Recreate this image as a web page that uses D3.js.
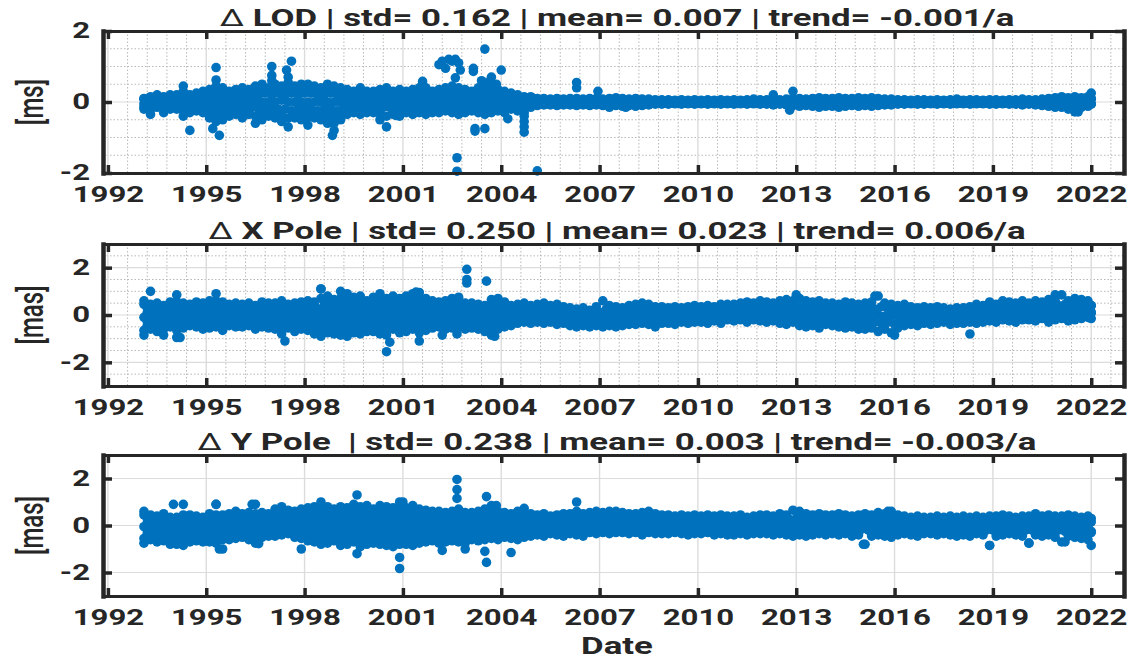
<!DOCTYPE html>
<html>
<head>
<meta charset="utf-8">
<script src="https://cdn.jsdelivr.net/npm/d3@7"></script>
<style>
  body { margin: 0; background: #fff; }
  text { font-family: Roboto, "Noto Sans", sans-serif; fill: #262626; }
</style>
</head>
<body>
<svg id="chart"></svg>
<script>
// Sample dates (decimal years), five per year, and a second set in between
const dates = [
  1993.1,1993.3,1993.5,1993.7,1993.9, 1994.1,1994.3,1994.5,1994.7,1994.9,
  1995.1,1995.3,1995.5,1995.7,1995.9, 1996.1,1996.3,1996.5,1996.7,1996.9,
  1997.1,1997.3,1997.5,1997.7,1997.9, 1998.1,1998.3,1998.5,1998.7,1998.9,
  1999.1,1999.3,1999.5,1999.7,1999.9, 2000.1,2000.3,2000.5,2000.7,2000.9,
  2001.1,2001.3,2001.5,2001.7,2001.9, 2002.1,2002.3,2002.5,2002.7,2002.9,
  2003.1,2003.3,2003.5,2003.7,2003.9, 2004.1,2004.3,2004.5,2004.7,2004.9,
  2005.1,2005.3,2005.5,2005.7,2005.9, 2006.1,2006.3,2006.5,2006.7,2006.9,
  2007.1,2007.3,2007.5,2007.7,2007.9, 2008.1,2008.3,2008.5,2008.7,2008.9,
  2009.1,2009.3,2009.5,2009.7,2009.9, 2010.1,2010.3,2010.5,2010.7,2010.9,
  2011.1,2011.3,2011.5,2011.7,2011.9, 2012.1,2012.3,2012.5,2012.7,2012.9,
  2013.1,2013.3,2013.5,2013.7,2013.9, 2014.1,2014.3,2014.5,2014.7,2014.9,
  2015.1,2015.3,2015.5,2015.7,2015.9, 2016.1,2016.3,2016.5,2016.7,2016.9,
  2017.1,2017.3,2017.5,2017.7,2017.9, 2018.1,2018.3,2018.5,2018.7,2018.9,
  2019.1,2019.3,2019.5,2019.7,2019.9, 2020.1,2020.3,2020.5,2020.7,2020.9,
  2021.1,2021.3,2021.5,2021.7,2021.9
];
const datesMid = [
  1993.2,1993.4,1993.6,1993.8,1994.0, 1994.2,1994.4,1994.6,1994.8,1995.0,
  1995.2,1995.4,1995.6,1995.8,1996.0, 1996.2,1996.4,1996.6,1996.8,1997.0,
  1997.2,1997.4,1997.6,1997.8,1998.0, 1998.2,1998.4,1998.6,1998.8,1999.0,
  1999.2,1999.4,1999.6,1999.8,2000.0, 2000.2,2000.4,2000.6,2000.8,2001.0,
  2001.2,2001.4,2001.6,2001.8,2002.0, 2002.2,2002.4,2002.6,2002.8,2003.0,
  2003.2,2003.4,2003.6,2003.8,2004.0, 2004.2,2004.4,2004.6,2004.8,2005.0,
  2005.2,2005.4,2005.6,2005.8,2006.0, 2006.2,2006.4,2006.6,2006.8,2007.0,
  2007.2,2007.4,2007.6,2007.8,2008.0, 2008.2,2008.4,2008.6,2008.8,2009.0,
  2009.2,2009.4,2009.6,2009.8,2010.0, 2010.2,2010.4,2010.6,2010.8,2011.0,
  2011.2,2011.4,2011.6,2011.8,2012.0, 2012.2,2012.4,2012.6,2012.8,2013.0,
  2013.2,2013.4,2013.6,2013.8,2014.0, 2014.2,2014.4,2014.6,2014.8,2015.0,
  2015.2,2015.4,2015.6,2015.8,2016.0, 2016.2,2016.4,2016.6,2016.8,2017.0,
  2017.2,2017.4,2017.6,2017.8,2018.0, 2018.2,2018.4,2018.6,2018.8,2019.0,
  2019.2,2019.4,2019.6,2019.8,2020.0, 2020.2,2020.4,2020.6,2020.8,2021.0,
  2021.2,2021.4,2021.6,2021.8,2022.0
];
// The noisy early years (1993-2004) get extra rows
const datesEarly = dates.slice(0, 60);
const datesEarlyMid = datesMid.slice(0, 60);

// ΔLOD [ms]: upper edge, inner rows, lower edge
const lodHi = [
  0.1,0.15,0.2,0.15,0.2, 0.2,0.45,0.2,0.25,0.3, 0.35,0.45,0.4,0.3,0.35, 0.4,0.35,0.45,0.5,0.4,
  0.5,0.45,0.55,0.45,0.5, 0.5,0.45,0.4,0.5,0.45, 0.4,0.35,0.3,0.4,0.3, 0.3,0.35,0.4,0.3,0.35,
  0.3,0.35,0.4,0.4,0.3, 0.35,0.4,0.45,0.4,0.35, 0.3,0.4,0.45,0.4,0.35, 0.3,0.25,0.2,0.15,0.15,
  0.1,0.1,0.08,0.1,0.08, 0.1,0.1,0.08,0.1,0.1, 0.08,0.1,0.12,0.1,0.08, 0.1,0.08,0.08,0.06,0.06,
  0.06,0.05,0.06,0.05,0.06, 0.05,0.06,0.05,0.06,0.05, 0.06,0.05,0.06,0.08,0.06, 0.06,0.08,0.06,0.08,0.1,
  0.1,0.08,0.1,0.12,0.1, 0.1,0.12,0.1,0.1,0.12, 0.1,0.12,0.1,0.08,0.08, 0.06,0.06,0.05,0.06,0.06,
  0.05,0.06,0.05,0.06,0.08, 0.05,0.06,0.06,0.05,0.06, 0.06,0.05,0.06,0.06,0.08, 0.06,0.06,0.08,0.1,0.12,
  0.15,0.12,0.15,0.12,0.15
];
const lodM1 = [
  0.05,0.08,0.1,0.08,0.1, 0.1,0.15,0.1,0.12,0.15, 0.15,0.2,0.2,0.15,0.15, 0.2,0.15,0.2,0.25,0.2,
  0.25,0.2,0.25,0.2,0.25, 0.25,0.2,0.2,0.25,0.2, 0.2,0.15,0.15,0.2,0.15, 0.15,0.15,0.2,0.15,0.15,
  0.15,0.15,0.2,0.2,0.15, 0.15,0.2,0.2,0.2,0.15, 0.15,0.2,0.2,0.2,0.15, 0.15,0.1,0.1,0.08,0.08,
  0.05,0.05,0.04,0.05,0.04, 0.05,0.05,0.04,0.05,0.05, 0.04,0.05,0.06,0.05,0.04, 0.05,0.04,0.04,0.03,0.03,
  0.03,0.03,0.03,0.03,0.03, 0.03,0.03,0.03,0.03,0.03, 0.03,0.03,0.03,0.04,0.03, 0.03,0.04,0.03,0.04,0.05,
  0.05,0.04,0.05,0.06,0.05, 0.05,0.06,0.05,0.05,0.06, 0.05,0.06,0.05,0.04,0.04, 0.03,0.03,0.03,0.03,0.03,
  0.03,0.03,0.03,0.03,0.04, 0.03,0.03,0.03,0.03,0.03, 0.03,0.03,0.03,0.03,0.04, 0.03,0.03,0.04,0.05,0.06,
  0.08,0.06,0.08,0.06,0.08
];
const lodM0 = [
  -0.05,0,0,0,0, 0,0,0,0,0, 0,0,0,0,0, 0,0,0,0,0,
  0,0.05,0,0,0, 0,0,0,0,0, 0,0,0,0,0, 0,0,0,0,0,
  0,0,0,0,0, 0,0,0,0,0, 0,0,0,0,0, 0,0,0,0,0,
  0,0,0,0,0, 0,0,0,0,0, 0,0,0,0,0, 0,0,0,0,0,
  0,0,0,0,0, 0,0,0,0,0, 0,0,0,0,0, 0,0,0,0,0,
  0,0,0,0,0, 0,0,0,0,0, 0,0,0,0,0, 0,0,0,0,0,
  0,0,0,0,0, 0,0,0,0,0, 0,0,0,0,0, 0,0,0,0,0,
  0,0,0,0,0
];
const lodM2 = [
  -0.08,-0.1,-0.1,-0.05,-0.1, -0.1,-0.1,-0.15,-0.1,-0.15, -0.15,-0.2,-0.2,-0.15,-0.15, -0.2,-0.15,-0.2,-0.2,-0.2,
  -0.2,-0.2,-0.25,-0.2,-0.2, -0.2,-0.25,-0.2,-0.2,-0.25, -0.15,-0.15,-0.15,-0.15,-0.15, -0.15,-0.15,-0.15,-0.15,-0.15,
  -0.15,-0.15,-0.15,-0.15,-0.15, -0.15,-0.15,-0.1,-0.15,-0.15, -0.1,-0.15,-0.15,-0.15,-0.1, -0.15,-0.1,-0.1,-0.05,-0.05,
  -0.04,-0.05,-0.04,-0.04,-0.04, -0.04,-0.05,-0.04,-0.05,-0.04, -0.05,-0.05,-0.05,-0.05,-0.04, -0.04,-0.04,-0.04,-0.03,-0.03,
  -0.03,-0.03,-0.03,-0.03,-0.03, -0.03,-0.03,-0.03,-0.03,-0.03, -0.03,-0.03,-0.03,-0.03,-0.03, -0.03,-0.04,-0.03,-0.04,-0.05,
  -0.06,-0.05,-0.06,-0.08,-0.06, -0.06,-0.08,-0.06,-0.05,-0.06, -0.05,-0.06,-0.05,-0.04,-0.04, -0.03,-0.03,-0.03,-0.03,-0.03,
  -0.03,-0.03,-0.03,-0.03,-0.03, -0.03,-0.03,-0.03,-0.03,-0.03, -0.03,-0.03,-0.03,-0.03,-0.04, -0.03,-0.04,-0.05,-0.06,-0.08,
  -0.08,-0.1,-0.14,-0.08,-0.06
];
const lodLo = [
  -0.2,-0.35,-0.15,-0.3,-0.2, -0.2,-0.4,-0.8,-0.25,-0.3, -0.45,-0.55,-0.5,-0.4,-0.35, -0.45,-0.35,-0.6,-0.5,-0.4,
  -0.45,-0.55,-0.7,-0.45,-0.5, -0.65,-0.45,-0.5,-0.6,-0.6, -0.5,-0.35,-0.3,-0.35,-0.3, -0.3,-0.5,-0.7,-0.35,-0.4,
  -0.3,-0.35,-0.3,-0.35,-0.3, -0.3,-0.25,-0.3,-0.35,-0.3, -0.25,-0.3,-0.35,-0.3,-0.25, -0.3,-0.2,-0.25,-0.3,-0.15,
  -0.1,-0.08,-0.08,-0.1,-0.08, -0.08,-0.1,-0.08,-0.1,-0.08, -0.1,-0.15,-0.1,-0.12,-0.1, -0.12,-0.1,-0.08,-0.06,-0.06,
  -0.06,-0.05,-0.06,-0.05,-0.06, -0.05,-0.06,-0.05,-0.06,-0.05, -0.06,-0.05,-0.06,-0.05,-0.06, -0.06,-0.08,-0.06,-0.08,-0.1,
  -0.12,-0.1,-0.12,-0.15,-0.12, -0.12,-0.15,-0.12,-0.1,-0.12, -0.1,-0.12,-0.1,-0.08,-0.08, -0.06,-0.06,-0.05,-0.06,-0.06,
  -0.05,-0.06,-0.05,-0.06,-0.05, -0.05,-0.06,-0.05,-0.05,-0.06, -0.06,-0.05,-0.06,-0.06,-0.08, -0.06,-0.08,-0.1,-0.12,-0.15,
  -0.15,-0.2,-0.28,-0.15,-0.12
];
// extra rows 1993-2004
const lodU = [
  0.08,0.12,0.15,0.12,0.15, 0.15,0.3,0.15,0.18,0.22, 0.25,0.32,0.3,0.22,0.25, 0.3,0.25,0.32,0.38,0.3,
  0.38,0.32,0.4,0.32,0.38, 0.38,0.32,0.3,0.38,0.32, 0.3,0.25,0.22,0.3,0.22, 0.22,0.25,0.3,0.22,0.25,
  0.22,0.25,0.3,0.3,0.22, 0.25,0.3,0.32,0.3,0.25, 0.22,0.3,0.32,0.3,0.25, 0.22,0.18,0.15,0.12,0.12
];
const lodD = [
  -0.14,-0.22,-0.12,-0.18,-0.15, -0.15,-0.25,-0.3,-0.18,-0.22, -0.3,-0.38,-0.35,-0.28,-0.25, -0.32,-0.25,-0.4,-0.35,-0.3,
  -0.32,-0.38,-0.45,-0.32,-0.35, -0.42,-0.35,-0.35,-0.4,-0.42, -0.32,-0.25,-0.22,-0.25,-0.22, -0.22,-0.32,-0.4,-0.25,-0.28,
  -0.22,-0.25,-0.22,-0.25,-0.22, -0.22,-0.2,-0.2,-0.25,-0.22, -0.18,-0.22,-0.25,-0.22,-0.18, -0.22,-0.15,-0.18,-0.18,-0.1
];
const lodOutDates = [
  1995.3,1995.3,1995.4,1995.2,1997.0,1997.0,1997.0,1997.45,1997.5,1997.6,1998.85,1998.9,
  2001.6,2000.8,2002.1,2002.2,2002.3,2002.4,2002.5,2002.6,2002.7,2002.75,2002.6,2002.65,2002.65,
  2003.15,2003.15,2003.5,2003.4,2003.6,2003.7,2003.85,2004.0,2003.2,2003.2,2003.5,2004.2,
  2004.7,2004.7,2004.7,2004.7,2005.1,2006.3,2006.3,2006.95,2007.8,2012.3,2012.9,2012.8,
  2021.6,2022.0,2022.0,2022.0
];
const lodOutValues = [
  0.97,0.62,-0.94,-0.75,1.0,0.75,0.6,0.9,0.7,1.15,-0.94,-0.8,
  0.58,-0.38,1.05,1.15,0.95,1.2,1.15,1.2,1.1,0.9,0.68,-1.57,-1.95,
  0.86,0.95,1.49,0.6,0.55,0.7,0.5,0.9,-0.75,-0.82,-0.75,-0.47,
  -0.4,-0.55,-0.7,-0.85,-1.94,0.55,0.4,0.3,-0.15,0.2,0.3,-0.23,
  -0.28,0.25,0.1,-0.05
];

// ΔX Pole [mas]
const xpHi = [
  0.6,0.45,0.5,0.4,0.55, 0.85,0.5,0.45,0.55,0.5, 0.6,0.9,0.55,0.45,0.5, 0.45,0.5,0.4,0.55,0.5,
  0.5,0.6,0.45,0.5,0.55, 0.6,0.55,1.1,0.8,0.65, 0.7,0.9,0.75,0.8,0.6, 0.75,0.9,0.7,0.8,0.7,
  0.8,0.9,0.95,0.7,0.6, 0.55,0.6,0.7,0.75,0.5, 0.5,0.45,0.4,0.65,0.7, 0.55,0.4,0.45,0.5,0.4,
  0.45,0.5,0.4,0.45,0.35, 0.3,0.25,0.3,0.2,0.35, 0.6,0.4,0.35,0.3,0.4, 0.45,0.5,0.45,0.35,0.35,
  0.3,0.35,0.3,0.35,0.4, 0.35,0.4,0.35,0.45,0.45, 0.45,0.5,0.55,0.5,0.6, 0.55,0.5,0.6,0.65,0.6,
  0.7,0.6,0.55,0.6,0.5, 0.5,0.45,0.55,0.5,0.45, 0.5,0.55,0.8,0.5,0.45, 0.4,0.45,0.35,0.3,0.35,
  0.3,0.35,0.3,0.25,0.3, 0.3,0.35,0.45,0.4,0.55, 0.45,0.6,0.55,0.5,0.6, 0.5,0.6,0.55,0.65,0.6,
  0.85,0.6,0.7,0.65,0.6
];
const xpM1 = [
  0.3,0.2,0.25,0.2,0.25, 0.3,0.25,0.2,0.25,0.2, 0.3,0.35,0.25,0.2,0.25, 0.2,0.25,0.2,0.25,0.25,
  0.2,0.25,0.2,0.2,0.25, 0.3,0.25,0.45,0.4,0.3, 0.35,0.45,0.4,0.4,0.3, 0.4,0.45,0.35,0.4,0.35,
  0.45,0.5,0.5,0.4,0.35, 0.3,0.3,0.35,0.35,0.25, 0.25,0.2,0.2,0.3,0.35, 0.3,0.25,0.25,0.25,0.2,
  0.25,0.3,0.25,0.25,0.2, 0.1,0.05,0.1,0.0,0.1, 0.25,0.2,0.15,0.1,0.2, 0.25,0.25,0.2,0.15,0.15,
  0.15,0.15,0.15,0.15,0.2, 0.2,0.2,0.2,0.25,0.25, 0.3,0.3,0.35,0.3,0.35, 0.35,0.3,0.35,0.4,0.35,
  0.35,0.3,0.3,0.3,0.25, 0.25,0.2,0.3,0.25,0.2, 0.25,0.25,0.35,0.25,0.2, 0.2,0.2,0.15,0.15,0.15,
  0.15,0.15,0.15,0.1,0.15, 0.15,0.2,0.25,0.2,0.3, 0.3,0.35,0.35,0.3,0.35, 0.35,0.4,0.35,0.4,0.4,
  0.45,0.4,0.45,0.4,0.4
];
const xpM0 = [
  -0.1,-0.05,-0.1,-0.05,-0.1, -0.05,0,-0.05,0,-0.05, 0,0.05,0,-0.05,0, -0.05,0,-0.05,0,-0.05,
  -0.1,-0.05,-0.1,-0.1,-0.05, -0.05,-0.05,0,0,0, 0,0.05,0,0,0, 0.05,0.05,0,0.05,0,
  0.1,0.1,0.1,0.05,0.05, 0.05,0,0.05,0.05,0, -0.05,-0.05,-0.1,-0.05,0, 0.05,0.05,0.05,0.1,0.05,
  0.05,0.1,0.05,0.05,0, -0.1,-0.1,-0.1,-0.15,-0.1, -0.05,-0.05,-0.1,-0.1,0, 0,0.05,0,-0.05,0,
  0,0,-0.05,0,0.05, 0.05,0.05,0.05,0.05,0.1, 0.1,0.15,0.15,0.15,0.15, 0.15,0.1,0.15,0.15,0.15,
  0.1,0.05,0.05,0.05,0.05, 0,0,0.05,0,-0.05, -0.05,-0.05,0,-0.05,-0.05, -0.05,-0.05,-0.05,-0.05,-0.05,
  -0.05,0,-0.05,-0.05,0, 0,0.05,0.05,0.05,0.1, 0.1,0.15,0.15,0.1,0.15, 0.15,0.2,0.2,0.15,0.2,
  0.25,0.2,0.25,0.2,0.25
];
const xpM2 = [
  -0.45,-0.3,-0.35,-0.4,-0.3, -0.35,-0.3,-0.25,-0.3,-0.3, -0.3,-0.25,-0.35,-0.25,-0.25, -0.3,-0.25,-0.3,-0.25,-0.3,
  -0.35,-0.4,-0.35,-0.4,-0.35, -0.35,-0.4,-0.45,-0.4,-0.4, -0.4,-0.45,-0.35,-0.4,-0.35, -0.35,-0.4,-0.4,-0.3,-0.35,
  -0.3,-0.25,-0.3,-0.3,-0.25, -0.25,-0.3,-0.25,-0.25,-0.3, -0.3,-0.35,-0.4,-0.45,-0.3, -0.25,-0.2,-0.15,-0.1,-0.15,
  -0.15,-0.15,-0.15,-0.2,-0.2, -0.3,-0.3,-0.3,-0.35,-0.3, -0.3,-0.25,-0.3,-0.3,-0.2, -0.2,-0.15,-0.2,-0.25,-0.2,
  -0.2,-0.2,-0.15,-0.2,-0.15, -0.15,-0.15,-0.1,-0.15,-0.05, -0.05,-0.05,-0.1,-0.05,-0.05, -0.1,-0.1,-0.1,-0.15,-0.1,
  -0.2,-0.25,-0.2,-0.25,-0.2, -0.25,-0.25,-0.25,-0.25,-0.3, -0.3,-0.3,-0.35,-0.3,-0.4, -0.3,-0.25,-0.25,-0.25,-0.2,
  -0.2,-0.2,-0.15,-0.2,-0.2, -0.15,-0.15,-0.15,-0.1,-0.1, -0.1,-0.05,-0.05,-0.1,0, 0,0,0.05,-0.05,0,
  0.05,0,0.05,0.05,0.1
];
const xpLo = [
  -0.85,-0.6,-0.7,-0.85,-0.5, -0.95,-0.55,-0.45,-0.5,-0.6, -0.55,-0.5,-0.65,-0.45,-0.5, -0.5,-0.45,-0.6,-0.5,-0.55,
  -0.6,-0.8,-0.55,-0.7,-0.6, -0.65,-0.8,-0.9,-0.75,-0.8, -0.85,-0.9,-0.75,-0.8,-0.7, -0.7,-0.8,-0.85,-0.6,-0.75,
  -0.7,-0.6,-0.75,-0.65,-0.55, -0.5,-0.6,-0.55,-0.5,-0.6, -0.55,-0.6,-0.7,-0.85,-0.6, -0.5,-0.45,-0.35,-0.3,-0.35,
  -0.3,-0.35,-0.3,-0.4,-0.35, -0.45,-0.5,-0.45,-0.5,-0.45, -0.5,-0.45,-0.5,-0.45,-0.4, -0.4,-0.35,-0.4,-0.5,-0.35,
  -0.35,-0.4,-0.3,-0.35,-0.3, -0.3,-0.35,-0.25,-0.35,-0.2, -0.25,-0.2,-0.3,-0.2,-0.25, -0.3,-0.25,-0.35,-0.4,-0.3,
  -0.45,-0.5,-0.45,-0.55,-0.4, -0.45,-0.5,-0.55,-0.5,-0.6, -0.6,-0.55,-0.7,-0.6,-0.75, -0.55,-0.45,-0.4,-0.45,-0.35,
  -0.4,-0.35,-0.3,-0.4,-0.35, -0.35,-0.3,-0.35,-0.3,-0.25, -0.3,-0.2,-0.25,-0.3,-0.2, -0.2,-0.25,-0.15,-0.3,-0.2,
  -0.15,-0.25,-0.2,-0.15,-0.1
];
// extra rows 1993-2004
const xpU = [
  0.45,0.35,0.4,0.3,0.4, 0.55,0.4,0.35,0.4,0.35, 0.45,0.6,0.4,0.35,0.4, 0.35,0.4,0.3,0.4,0.4,
  0.35,0.45,0.35,0.35,0.4, 0.45,0.4,0.7,0.6,0.5, 0.55,0.65,0.6,0.6,0.45, 0.6,0.65,0.55,0.6,0.55,
  0.65,0.7,0.7,0.55,0.5, 0.45,0.45,0.5,0.55,0.4, 0.4,0.35,0.3,0.5,0.55, 0.45,0.35,0.35,0.4,0.3
];
const xpA = [
  0.1,0.08,0.08,0.08,0.08, 0.12,0.12,0.08,0.12,0.08, 0.15,0.2,0.12,0.08,0.12, 0.08,0.12,0.08,0.12,0.1,
  0.05,0.1,0.05,0.05,0.1, 0.12,0.1,0.22,0.2,0.15, 0.18,0.25,0.2,0.2,0.15, 0.22,0.25,0.18,0.22,0.18,
  0.28,0.3,0.3,0.22,0.2, 0.18,0.15,0.2,0.2,0.12, 0.1,0.08,0.05,0.12,0.18, 0.18,0.15,0.15,0.18,0.12
];
const xpB = [
  -0.28,-0.18,-0.22,-0.22,-0.2, -0.2,-0.15,-0.15,-0.15,-0.18, -0.15,-0.1,-0.18,-0.15,-0.12, -0.18,-0.12,-0.18,-0.12,-0.18,
  -0.22,-0.22,-0.22,-0.25,-0.2, -0.2,-0.22,-0.22,-0.2,-0.2, -0.2,-0.2,-0.18,-0.2,-0.18, -0.15,-0.18,-0.2,-0.12,-0.18,
  -0.1,-0.08,-0.1,-0.12,-0.1, -0.1,-0.15,-0.1,-0.1,-0.15, -0.18,-0.2,-0.25,-0.25,-0.15, -0.1,-0.08,-0.05,0,-0.05
];
const xpD = [
  -0.65,-0.45,-0.55,-0.6,-0.4, -0.65,-0.45,-0.35,-0.4,-0.45, -0.45,-0.4,-0.5,-0.35,-0.4, -0.4,-0.35,-0.45,-0.4,-0.45,
  -0.5,-0.6,-0.45,-0.55,-0.5, -0.5,-0.6,-0.7,-0.6,-0.6, -0.65,-0.7,-0.55,-0.6,-0.55, -0.55,-0.6,-0.65,-0.45,-0.55,
  -0.5,-0.45,-0.55,-0.5,-0.4, -0.4,-0.45,-0.4,-0.4,-0.45, -0.45,-0.5,-0.55,-0.65,-0.45, -0.4,-0.35,-0.25,-0.2,-0.25
];
const xpOutDates = [
  1993.3,1994.2,1997.4,1998.5,1999.1,2000.5,2000.6,2001.4,2001.5,2002.2,2002.65,
  2002.95,2002.95,2002.95,2003.55,2003.8,2013.0,2015.4,2016.0,2018.3,2020.9,2022.0,2022.0,2022.0
];
const xpOutValues = [
  1.0,-0.95,-1.1,1.1,1.0,-1.55,-1.15,0.97,-1.1,-0.85,-0.8,
  1.93,1.5,1.35,1.43,-0.9,0.85,0.8,-0.85,-0.8,0.85,0.4,0.1,-0.15
];

// ΔY Pole [mas]
const ypHi = [
  0.6,0.45,0.4,0.5,0.35, 0.35,0.9,0.45,0.4,0.35, 0.5,0.9,0.45,0.5,0.6, 0.5,0.55,0.9,0.55,0.5,
  0.7,0.8,0.65,0.6,0.7, 0.75,0.8,1.0,0.8,0.7, 0.8,0.75,0.9,0.8,0.85, 0.7,0.85,0.8,0.75,1.0,
  0.75,0.85,0.7,0.65,0.6, 0.6,0.55,0.6,0.7,0.55, 0.55,0.6,0.7,0.85,0.6, 0.55,0.5,0.6,0.45,0.5,
  0.45,0.5,0.4,0.45,0.5, 0.5,0.6,0.5,0.55,0.6, 0.55,0.6,0.6,0.55,0.5, 0.5,0.55,0.6,0.5,0.45,
  0.45,0.4,0.45,0.4,0.45, 0.4,0.45,0.4,0.45,0.4, 0.4,0.45,0.35,0.4,0.45, 0.45,0.4,0.5,0.45,0.65,
  0.6,0.5,0.45,0.5,0.45, 0.45,0.5,0.45,0.4,0.45, 0.5,0.45,0.55,0.5,0.6, 0.45,0.4,0.35,0.4,0.35,
  0.35,0.4,0.35,0.4,0.35, 0.4,0.35,0.4,0.35,0.4, 0.4,0.45,0.4,0.35,0.4, 0.4,0.5,0.4,0.45,0.4,
  0.4,0.45,0.4,0.35,0.4
];
const ypM1 = [
  0.3,0.2,0.2,0.25,0.15, 0.15,0.3,0.2,0.15,0.15, 0.2,0.3,0.2,0.2,0.3, 0.25,0.25,0.35,0.3,0.25,
  0.4,0.45,0.35,0.35,0.4, 0.4,0.4,0.45,0.4,0.35, 0.4,0.35,0.45,0.4,0.4, 0.35,0.4,0.4,0.35,0.45,
  0.35,0.4,0.3,0.3,0.25, 0.25,0.25,0.25,0.3,0.25, 0.3,0.3,0.35,0.4,0.3, 0.25,0.25,0.3,0.2,0.25,
  0.25,0.25,0.2,0.25,0.25, 0.3,0.35,0.3,0.3,0.35, 0.35,0.35,0.35,0.35,0.3, 0.3,0.3,0.35,0.3,0.25,
  0.25,0.2,0.25,0.2,0.25, 0.2,0.25,0.2,0.25,0.2, 0.2,0.2,0.15,0.2,0.2, 0.25,0.2,0.25,0.25,0.3,
  0.3,0.25,0.25,0.25,0.25, 0.25,0.25,0.25,0.2,0.25, 0.25,0.25,0.3,0.25,0.3, 0.2,0.2,0.15,0.2,0.15,
  0.15,0.2,0.15,0.2,0.15, 0.2,0.15,0.2,0.15,0.2, 0.2,0.2,0.2,0.15,0.2, 0.2,0.25,0.2,0.2,0.2,
  0.2,0.2,0.15,0.15,0.15
];
const ypM0 = [
  -0.05,-0.05,-0.1,-0.05,-0.1, -0.15,-0.1,-0.15,-0.15,-0.1, -0.1,-0.05,-0.1,-0.05,0, 0,0,0.05,0,0,
  0.1,0.1,0.1,0.1,0.1, 0.05,0.05,0.05,0,0.05, 0,0,0,0,0, 0,0,0,0,0,
  -0.05,-0.05,-0.05,-0.05,-0.05, -0.1,-0.05,-0.1,-0.05,-0.05, 0,0,0,0.05,0, 0,0,0,-0.05,0,
  0.05,0.05,0,0.05,0.05, 0.1,0.1,0.1,0.1,0.1, 0.15,0.15,0.15,0.15,0.1, 0.1,0.1,0.1,0.1,0.05,
  0.05,0.05,0.05,0,0.05, 0.05,0.05,0,0.05,0, 0,0,0,0,0.05, 0.05,0,0.05,0.05,0.05,
  0.05,0.05,0.05,0.05,0.05, 0.05,0.05,0.05,0,0.05, 0.05,0.05,0.05,0.05,0.05, 0,0,0,0,0,
  0,0,0,0,0, 0,0,0,0,0, 0,0,0,0,0, 0,0,0,0,0,
  -0.05,-0.05,-0.05,-0.05,-0.05
];
const ypM2 = [
  -0.35,-0.35,-0.4,-0.35,-0.4, -0.45,-0.4,-0.45,-0.4,-0.4, -0.4,-0.4,-0.4,-0.35,-0.3, -0.25,-0.3,-0.3,-0.25,-0.25,
  -0.2,-0.2,-0.15,-0.2,-0.2, -0.3,-0.35,-0.35,-0.35,-0.3, -0.4,-0.4,-0.35,-0.4,-0.4, -0.35,-0.4,-0.4,-0.4,-0.4,
  -0.4,-0.45,-0.4,-0.4,-0.35, -0.4,-0.35,-0.4,-0.35,-0.35, -0.3,-0.3,-0.3,-0.25,-0.3, -0.25,-0.25,-0.3,-0.3,-0.25,
  -0.2,-0.2,-0.2,-0.2,-0.2, -0.15,-0.15,-0.15,-0.1,-0.15, -0.1,-0.1,-0.1,-0.1,-0.1, -0.1,-0.15,-0.1,-0.15,-0.15,
  -0.15,-0.15,-0.15,-0.2,-0.15, -0.15,-0.15,-0.2,-0.15,-0.2, -0.2,-0.2,-0.2,-0.2,-0.15, -0.15,-0.2,-0.15,-0.2,-0.2,
  -0.2,-0.2,-0.2,-0.15,-0.2, -0.15,-0.2,-0.15,-0.2,-0.15, -0.2,-0.2,-0.2,-0.2,-0.2, -0.2,-0.2,-0.2,-0.2,-0.2,
  -0.2,-0.2,-0.2,-0.2,-0.2, -0.2,-0.2,-0.2,-0.2,-0.2, -0.2,-0.2,-0.2,-0.2,-0.2, -0.2,-0.2,-0.2,-0.2,-0.2,
  -0.25,-0.25,-0.25,-0.25,-0.25
];
const ypLo = [
  -0.75,-0.6,-0.7,-0.65,-0.8, -0.8,-0.85,-0.7,-0.65,-0.7, -0.7,-0.75,-1.0,-0.6,-0.55, -0.5,-0.6,-0.75,-0.5,-0.45,
  -0.45,-0.4,-0.35,-0.5,-0.55, -0.65,-0.7,-0.8,-0.75,-0.65, -0.85,-0.8,-0.7,-0.9,-0.8, -0.75,-0.8,-0.85,-0.9,-0.8,
  -0.8,-0.85,-0.75,-0.7,-0.65, -0.75,-0.7,-0.65,-0.7,-0.75, -0.6,-0.65,-0.6,-0.55,-0.6, -0.5,-0.55,-0.6,-0.5,-0.45,
  -0.4,-0.45,-0.35,-0.4,-0.45, -0.35,-0.4,-0.45,-0.3,-0.35, -0.3,-0.35,-0.3,-0.3,-0.35, -0.3,-0.4,-0.3,-0.35,-0.35,
  -0.35,-0.3,-0.35,-0.4,-0.35, -0.35,-0.3,-0.4,-0.35,-0.4, -0.4,-0.35,-0.4,-0.35,-0.35, -0.35,-0.4,-0.35,-0.4,-0.45,
  -0.4,-0.45,-0.4,-0.35,-0.4, -0.35,-0.4,-0.35,-0.45,-0.4, -0.8,-0.45,-0.4,-0.45,-0.5, -0.4,-0.35,-0.4,-0.45,-0.35,
  -0.35,-0.4,-0.35,-0.4,-0.45, -0.4,-0.45,-0.35,-0.4,-0.85, -0.45,-0.4,-0.35,-0.4,-0.45, -0.75,-0.4,-0.45,-0.4,-0.5,
  -0.7,-0.45,-0.5,-0.55,-0.6
];
// extra rows 1993-2004
const ypU = [
  0.45,0.32,0.3,0.38,0.25, 0.25,0.45,0.32,0.28,0.25, 0.35,0.45,0.32,0.35,0.45, 0.38,0.4,0.5,0.42,0.38,
  0.55,0.62,0.5,0.48,0.55, 0.58,0.6,0.7,0.6,0.52, 0.6,0.55,0.68,0.6,0.62, 0.52,0.62,0.6,0.55,0.7,
  0.55,0.62,0.5,0.48,0.42, 0.42,0.4,0.42,0.5,0.4, 0.42,0.45,0.52,0.6,0.45, 0.4,0.38,0.45,0.32,0.38
];
const ypA = [
  0.12,0.08,0.05,0.1,0.02, 0,0.1,0.02,0,0.02, 0.05,0.12,0.05,0.08,0.15, 0.12,0.12,0.2,0.15,0.12,
  0.25,0.28,0.22,0.22,0.25, 0.22,0.22,0.25,0.2,0.2, 0.2,0.18,0.22,0.2,0.2, 0.18,0.2,0.2,0.18,0.22,
  0.15,0.18,0.12,0.12,0.1, 0.08,0.1,0.08,0.12,0.1, 0.15,0.15,0.18,0.22,0.15, 0.12,0.12,0.15,0.08,0.12
];
const ypB = [
  -0.2,-0.2,-0.25,-0.2,-0.25, -0.3,-0.25,-0.3,-0.28,-0.25, -0.25,-0.22,-0.25,-0.2,-0.15, -0.12,-0.15,-0.12,-0.12,-0.12,
  -0.05,-0.05,-0.02,-0.05,-0.05, -0.12,-0.15,-0.15,-0.18,-0.12, -0.2,-0.2,-0.18,-0.2,-0.2, -0.18,-0.2,-0.2,-0.2,-0.2,
  -0.22,-0.25,-0.22,-0.22,-0.2, -0.25,-0.2,-0.25,-0.2,-0.2, -0.15,-0.15,-0.15,-0.1,-0.15, -0.12,-0.12,-0.15,-0.18,-0.12
];
const ypD = [
  -0.55,-0.48,-0.55,-0.5,-0.6, -0.62,-0.62,-0.58,-0.52,-0.55, -0.55,-0.58,-0.6,-0.48,-0.42, -0.38,-0.45,-0.5,-0.38,-0.35,
  -0.32,-0.3,-0.25,-0.35,-0.38, -0.48,-0.52,-0.58,-0.55,-0.48, -0.62,-0.6,-0.52,-0.65,-0.6, -0.55,-0.6,-0.62,-0.65,-0.6,
  -0.6,-0.65,-0.58,-0.55,-0.5, -0.58,-0.52,-0.52,-0.52,-0.55, -0.45,-0.48,-0.45,-0.4,-0.45, -0.38,-0.4,-0.45,-0.4,-0.35
];
const ypOutDates = [
  1994.0,1995.3,1995.4,1996.4,1996.6,1997.9,1999.6,1999.6,2000.9,2000.9,2001.0,2002.2,
  2002.65,2002.65,2002.65,2002.9,2003.5,2003.55,2003.55,2003.85,2004.3,2004.7,2006.3,
  2015.05,2015.8,2018.9,2020.1,2021.2,2022.0,2022.0,2022.0
];
const ypOutValues = [
  0.9,0.9,-1.0,0.9,-0.77,-1.0,1.3,-1.2,-1.36,-1.83,1.0,-1.06,
  1.96,1.53,1.15,-1.0,-1.1,1.23,-1.57,0.85,-1.15,0.73,1.0,
  -0.8,0.6,-0.85,-0.75,-0.7,-0.85,0.3,-0.3
];

// Axis ticks and titles
const xTicks = [1992, 1995, 1998, 2001, 2004, 2007, 2010, 2013, 2016, 2019, 2022];
const titles = [
  "LOD | std= 0.162 | mean= 0.007 | trend= -0.001/a",
  "X Pole | std= 0.250 | mean= 0.023 | trend= 0.006/a",
  "Y Pole  | std= 0.238 | mean= 0.003 | trend= -0.003/a"
];
const units = ["[ms]", "[mas]", "[mas]"];

const panels = [
  { rows: [[dates, lodHi], [datesMid, lodM1], [dates, lodM0], [datesMid, lodM2], [dates, lodLo],
           [datesEarly, lodU], [datesEarly, lodD]],
    outT: lodOutDates, outV: lodOutValues,
    yDomain: [-2, 2], yTicks: [-2, 0, 2], minor: true, top: 31, bottom: 173 },
  { rows: [[dates, xpHi], [datesMid, xpM1], [dates, xpM0], [datesMid, xpM2], [dates, xpLo],
           [datesEarly, xpU], [datesEarlyMid, xpA], [datesEarlyMid, xpB], [datesEarly, xpD]],
    outT: xpOutDates, outV: xpOutValues,
    yDomain: [-3, 3], yTicks: [-2, 0, 2], minor: true, top: 244, bottom: 386 },
  { rows: [[dates, ypHi], [datesMid, ypM1], [dates, ypM0], [datesMid, ypM2], [dates, ypLo],
           [datesEarly, ypU], [datesEarlyMid, ypA], [datesEarlyMid, ypB], [datesEarly, ypD]],
    outT: ypOutDates, outV: ypOutValues,
    yDomain: [-3, 3], yTicks: [-2, 0, 2], minor: false, top: 455, bottom: 596 }
];

const width = 1130, height = 659;
const SX = 1.45;           // horizontal stretch of the lettering
const dark = "#262626", blue = "#0072BD";

const svg = d3.select("#chart").attr("width", width).attr("height", height);
svg.append("rect").attr("width", width).attr("height", height).attr("fill", "#fff");

const x = d3.scaleLinear().domain([1991.85, 2023]).range([103, 1124]);
const xMinor = d3.range(1992, 2023.01, 0.6).filter(v => Math.abs((v - 1992) % 3) > 0.01 && Math.abs((v - 1992) % 3 - 3) > 0.01);

panels.forEach((p, i) => {
  const y = d3.scaleLinear().domain(p.yDomain).range([p.bottom, p.top]);
  const g = svg.append("g");

  // Minor grid (dotted)
  if (p.minor) {
    const yMinor = d3.range(p.yDomain[0], p.yDomain[1] + 0.01, 0.5).filter(v => p.yTicks.indexOf(v) < 0);
    g.selectAll(".mx").data(xMinor).enter().append("line")
      .attr("x1", d => x(d)).attr("x2", d => x(d)).attr("y1", p.top).attr("y2", p.bottom)
      .attr("stroke", "#b8b8b8").attr("stroke-width", 1).attr("stroke-dasharray", "1.5,2");
    g.selectAll(".my").data(yMinor).enter().append("line")
      .attr("x1", x.range()[0]).attr("x2", x.range()[1]).attr("y1", d => y(d)).attr("y2", d => y(d))
      .attr("stroke", "#b8b8b8").attr("stroke-width", 1).attr("stroke-dasharray", "1.5,2");
  }
  // Major grid
  g.selectAll(".gx").data(xTicks).enter().append("line")
    .attr("x1", d => x(d)).attr("x2", d => x(d)).attr("y1", p.top).attr("y2", p.bottom)
    .attr("stroke", "#dcdcdc").attr("stroke-width", 1.4);
  g.selectAll(".gy").data(p.yTicks).enter().append("line")
    .attr("x1", x.range()[0]).attr("x2", x.range()[1]).attr("y1", d => y(d)).attr("y2", d => y(d))
    .attr("stroke", "#dcdcdc").attr("stroke-width", 1.2);

  // Points
  const pts = [];
  p.rows.forEach(([t, r]) => r.forEach((v, j) => pts.push([t[j], v])));
  p.outT.forEach((t, j) => pts.push([t, p.outV[j]]));
  g.selectAll("circle").data(pts).enter().append("circle")
    .attr("cx", d => x(d[0])).attr("cy", d => y(d[1])).attr("r", 4.8).attr("fill", blue);

  // Axes: inward ticks on all four sides, thick box
  const styleAxis = (sel, w) => {
    sel.select(".domain").attr("stroke", dark).attr("stroke-width", w).attr("stroke-linecap", "square");
    sel.selectAll(".tick line").attr("stroke", dark).attr("stroke-width", 3.5);
  };
  const bottomAxis = g.append("g").attr("transform", `translate(0,${p.bottom})`)
    .call(d3.axisBottom(x).tickValues(xTicks).tickSizeInner(-8).tickSizeOuter(0).tickPadding(14).tickFormat(d => String(d)));
  const topAxis = g.append("g").attr("transform", `translate(0,${p.top})`)
    .call(d3.axisTop(x).tickValues(xTicks).tickSizeInner(-8).tickSizeOuter(0).tickFormat(""));
  const leftAxis = g.append("g").attr("transform", `translate(${x.range()[0]},0)`)
    .call(d3.axisLeft(y).tickValues(p.yTicks).tickSizeInner(-9).tickSizeOuter(0).tickPadding(10).tickFormat(d => String(d)));
  const rightAxis = g.append("g").attr("transform", `translate(${x.range()[1]},0)`)
    .call(d3.axisRight(y).tickValues(p.yTicks).tickSizeInner(-9).tickSizeOuter(0).tickFormat(""));
  styleAxis(bottomAxis, 3); styleAxis(topAxis, 3); styleAxis(leftAxis, 4.5); styleAxis(rightAxis, 4.5);

  [bottomAxis, leftAxis].forEach(a => a.selectAll("text")
    .attr("font-family", "Roboto, sans-serif").attr("font-size", 21.5).attr("font-weight", "bold")
    .attr("fill", dark).attr("transform", `scale(${SX},1)`));
  leftAxis.selectAll("text").attr("x", -13 / SX);

  // Title
  const t = g.append("text")
    .attr("transform", `translate(617,${p.top - 5}) scale(${SX},1)`)
    .attr("text-anchor", "middle").attr("font-size", 24).attr("font-weight", "bold")
    .style("white-space", "pre");
  t.append("tspan").attr("font-weight", "normal").text("Δ ");
  t.append("tspan").text(titles[i]);

  // Y label
  g.append("text")
    .attr("transform", `translate(31,${(p.top + p.bottom) / 2}) scale(${SX},1) rotate(-90)`)
    .attr("text-anchor", "middle").attr("dy", "0.35em").attr("font-size", 24).attr("font-weight", 500)
    .text(units[i]);
});

svg.append("text")
  .attr("transform", `translate(617,654) scale(${SX},1)`)
  .attr("text-anchor", "middle").attr("font-size", 24).attr("font-weight", "bold")
  .text("Date");
</script>
</body>
</html>
